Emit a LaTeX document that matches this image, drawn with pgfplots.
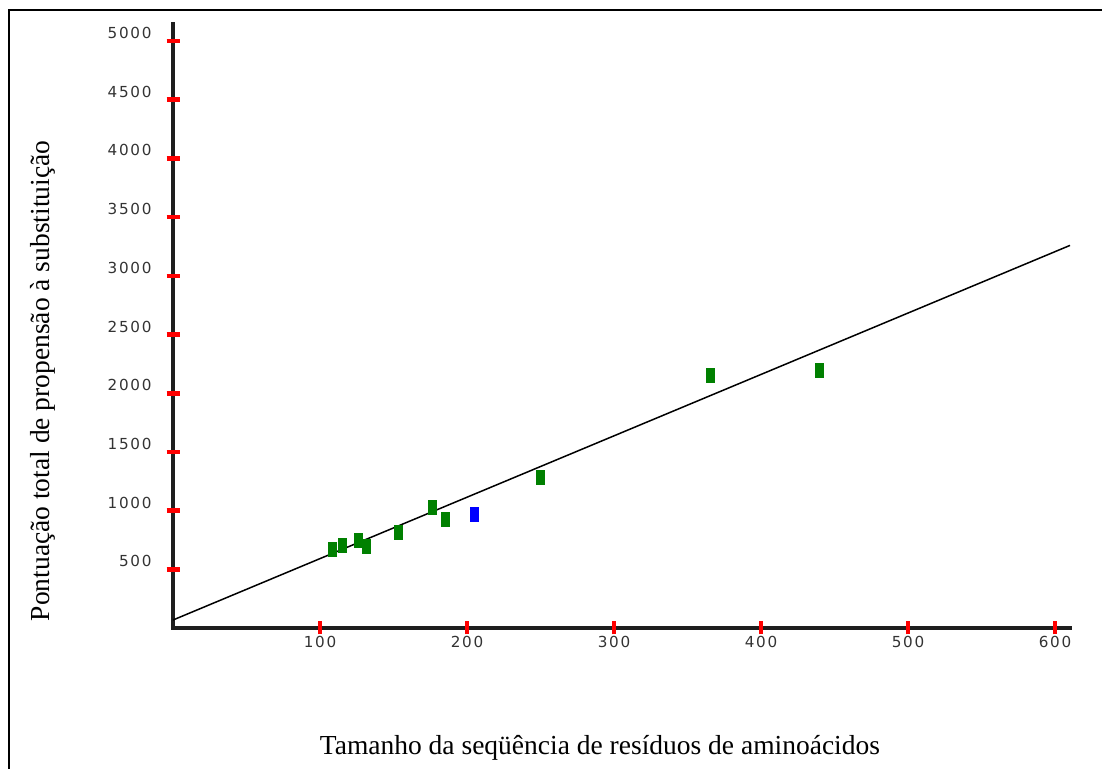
\documentclass[border=0pt]{standalone}
\usepackage{pgfplots}
\pgfplotsset{compat=1.18}
\usepackage{fontspec}
\setmainfont{Liberation Serif}
\newfontfamily\tickfont[LetterSpace=11]{DejaVu Sans}
\definecolor{ptgreen}{RGB}{0,128,0}
\definecolor{ptblue}{RGB}{0,0,255}
\definecolor{axisgray}{RGB}{30,30,30}
\begin{document}
\begin{tikzpicture}[x=0.5pt,y=0.5pt]
\useasboundingbox (0,0) rectangle (1102,769);
\draw[line width=1.25pt,black] (9,-5) -- (9,759) -- (1110,759);
\begin{axis}[
  at={(86.5pt,70.5pt)}, anchor=south west,
  scale only axis, width=448.5pt, height=302pt,
  xmin=0, xmax=610.2, ymin=0, ymax=5145,
  axis x line=bottom, axis y line=left,
  axis line style={draw=none},
  axis on top,
  xtick={100,200,300,400,500,600},
  ytick={500,1000,1500,2000,2500,3000,3500,4000,4500,5000},
  tick align=center,
  major tick length=6.5pt,
  tick style={red, line width=2.3pt},
  ticklabel style={font=\tickfont\fontsize{7.6}{9}\selectfont, text=black!80},
  xticklabel style={yshift=2.5pt},
  yticklabel style={yshift=4pt, xshift=-4pt},
  scaled ticks=false,
  /pgf/number format/assume math mode=true,
  /pgf/number format/set thousands separator={},
  xlabel={Tamanho da seqüência de resíduos de aminoácidos},
  ylabel={Pontuação total de propensão à substituição},
  label style={font=\fontsize{13.75}{16}\selectfont},
  xlabel style={at={(axis description cs:0.476,-0.199)}, anchor=center},
  ylabel style={at={(axis description cs:-0.145,0.409)}, anchor=center},
  clip=false,
]
\draw[line width=1.9pt, axisgray, line cap=rect] (rel axis cs:0,1) -- (rel axis cs:0,0) -- (rel axis cs:1,0);
\addplot[black, line width=0.75pt] coordinates {(0,68) (610.2,3259)};
\addplot[ptgreen, only marks, mark=square*, mark size=2pt, mark options={yscale=1.75, draw=ptgreen, fill=ptgreen, line width=0pt}] coordinates {
(108.2,671) (115.6,705) (125.9,747) (131.3,696) (153.1,815) (176.2,1027) (185.7,925) (249.7,1282) (365.3,2148) (439.5,2190)
};
\addplot[ptblue, only marks, mark=square*, mark size=2pt, mark options={yscale=1.75, draw=ptblue, fill=ptblue, line width=0pt}] coordinates {(204.8,968)};
\end{axis}
\end{tikzpicture}
\end{document}
